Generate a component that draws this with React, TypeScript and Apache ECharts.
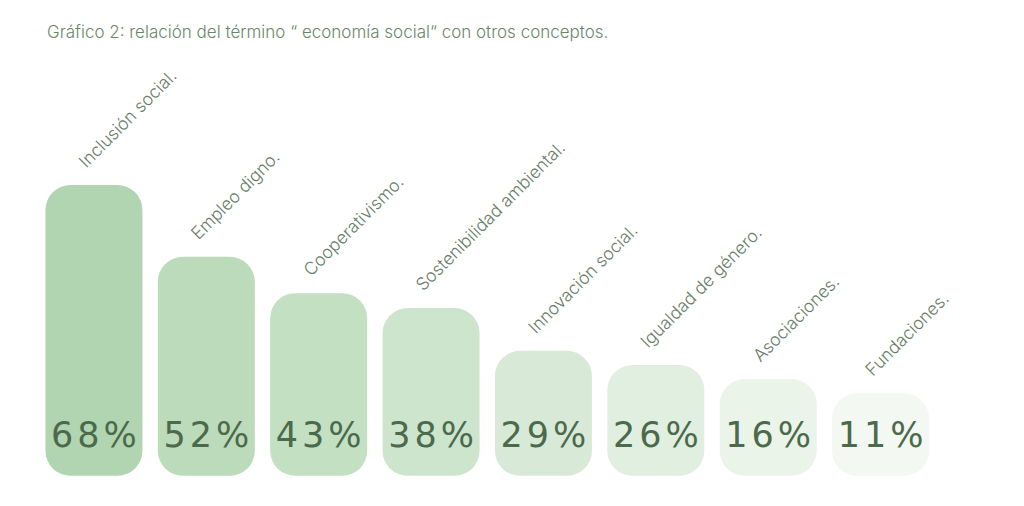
import React, { useEffect, useRef } from "react";
import * as echarts from "echarts";

const titleText = "Gráfico 2: relación del término “ economía social“ con otros conceptos.";
const categories = [
  "Inclusión social.",
  "Empleo digno.",
  "Cooperativismo.",
  "Sostenibilidad ambiental.",
  "Innovación social.",
  "Igualdad de género.",
  "Asociaciones.",
  "Fundaciones.",
];
// percentages printed on the bars
const percentages = [68, 52, 43, 38, 29, 26, 16, 11];
// drawn bar heights (same % scale)
const barHeights = [68, 51.2, 42.7, 39.2, 29.2, 25.9, 22.6, 19.3];
const barColors = [
  "#b1d5b0",
  "#bbdbba",
  "#c4e0c3",
  "#cee5cd",
  "#d8ead7",
  "#e1efe0",
  "#eaf4e9",
  "#f3f8f2",
];

export default function App() {
  const ref = useRef<HTMLDivElement>(null);
  useEffect(() => {
    if (!ref.current) return;
    const chart = echarts.init(ref.current, null, { renderer: "svg" });
    chart.setOption({
      animation: false,
      backgroundColor: "#ffffff",
      title: {
        text: titleText,
        left: 42,
        top: 18,
        textStyle: {
          fontFamily: "Inter",
          fontWeight: 300,
          fontSize: 17,
          color: "#6a866a",
        },
      },
      grid: { left: 37.75, right: 1024 - 936.75, top: 48.2, bottom: 30.3 },
      xAxis: {
        type: "category",
        data: categories,
        show: false,
      },
      yAxis: { type: "value", min: 0, max: 100, show: false },
      series: [
        {
          type: "bar",
          barWidth: 97,
          data: barHeights.map((h, i) => ({
            value: h,
            itemStyle: { color: barColors[i] },
          })),
          itemStyle: { borderRadius: 25 },
          label: {
            show: true,
            position: "insideBottom",
            distance: 23.5,
            formatter: (p: any) =>
              (percentages[p.dataIndex] + "%")
                .split("")
                .map((c) => "{c|" + c + "}")
                .join(""),
            rich: {
              c: {
                fontFamily: "DejaVu Sans",
                fontSize: 35,
                fontWeight: "normal",
                color: "#4b6a4c",
                padding: [0, 2, 0, 2],
              },
            },
          },
        },
        {
          type: "bar",
          barWidth: 97,
          barGap: "-100%",
          silent: true,
          data: barHeights,
          itemStyle: { color: "transparent" },
          label: {
            show: true,
            position: "top",
            distance: 0,
            rotate: 45,
            align: "left",
            verticalAlign: "middle",
            offset: [6, -23.5],
            formatter: (p: any) => categories[p.dataIndex],
            fontFamily: "Inter",
            fontWeight: 300,
            fontSize: 17.5,
            color: "#677d67",
          },
        },
      ],
    });
    return () => chart.dispose();
  }, []);
  return (
    <div
      ref={ref}
      style={{ position: "fixed", left: 0, top: 0, width: 1024, height: 506 }}
    />
  );
}
